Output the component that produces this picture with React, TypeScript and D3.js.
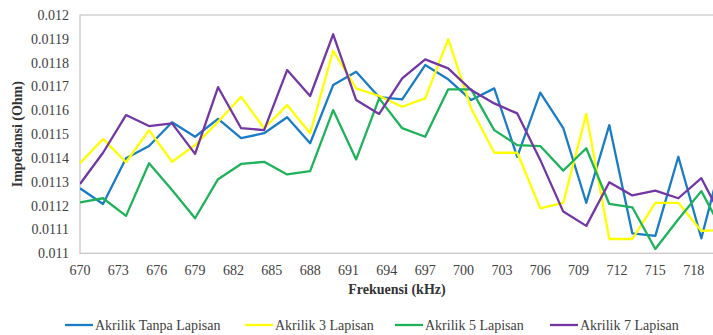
import React from "react";
import * as d3 from "d3";

const freqs = [670, 671.8, 673.6, 675.4, 677.2, 679, 680.8, 682.6, 684.4, 686.2, 688, 689.8, 691.6, 693.4, 695.2, 697, 698.8, 700.6, 702.4, 704.2, 706, 707.8, 709.6, 711.4, 713.2, 715, 716.8, 718.6, 720.4];

const tanpa = [0.011273, 0.011207, 0.011399, 0.01145, 0.01155, 0.011489, 0.011564, 0.011483, 0.011504, 0.011571, 0.011462, 0.011706, 0.011762, 0.011655, 0.011646, 0.01179, 0.01173, 0.011643, 0.011692, 0.011405, 0.011674, 0.011525, 0.011212, 0.011538, 0.011084, 0.011073, 0.011405, 0.011063, 0.011435];
const lapis3 = [0.011378, 0.01148, 0.011382, 0.011517, 0.011384, 0.011454, 0.011552, 0.011657, 0.011525, 0.011622, 0.011504, 0.01185, 0.011692, 0.01166, 0.011615, 0.01165, 0.011899, 0.011608, 0.011422, 0.011422, 0.011189, 0.011212, 0.011585, 0.01106, 0.01106, 0.011212, 0.011212, 0.011094, 0.011098];
const lapis5 = [0.011214, 0.011231, 0.011157, 0.011378, 0.011266, 0.011147, 0.011311, 0.011375, 0.011384, 0.011331, 0.011345, 0.011601, 0.011394, 0.01165, 0.011525, 0.011489, 0.011688, 0.011688, 0.011517, 0.011454, 0.01145, 0.011347, 0.011441, 0.011207, 0.011193, 0.011018, 0.011143, 0.011261, 0.01108];
const lapis7 = [0.011291, 0.011422, 0.01158, 0.011534, 0.011545, 0.011417, 0.011697, 0.011525, 0.011517, 0.011769, 0.01166, 0.011919, 0.011643, 0.011585, 0.011734, 0.011814, 0.011776, 0.011685, 0.011629, 0.011587, 0.011392, 0.011175, 0.011115, 0.011298, 0.011243, 0.011263, 0.011231, 0.011315, 0.01113];

const seriesNames = ["Akrilik Tanpa Lapisan", "Akrilik 3 Lapisan", "Akrilik 5 Lapisan", "Akrilik 7 Lapisan"];
const seriesValues = [tanpa, lapis3, lapis5, lapis7];
const seriesColors = ["#1b7cc6", "#ffff00", "#1fb25a", "#7337a3"];

const xTicks = [670, 673, 676, 679, 682, 685, 688, 691, 694, 697, 700, 703, 706, 709, 712, 715, 718];
const yTicks = [0.011, 0.0111, 0.0112, 0.0113, 0.0114, 0.0115, 0.0116, 0.0117, 0.0118, 0.0119, 0.012];
const yTickLabels = ["0.011", "0.0111", "0.0112", "0.0113", "0.0114", "0.0115", "0.0116", "0.0117", "0.0118", "0.0119", "0.012"];

const legendX = [65, 245, 395, 550];

export default function App() {
  const W = 713, H = 335;
  const left = 80, top = 15, bottom = 253.3;
  const right = 80 + 50 * 12.785;
  const x = d3.scaleLinear().domain([670, 720]).range([left, right]);
  const y = d3.scaleLinear().domain([0.011, 0.012]).range([bottom, top]);
  const line = d3.line<number>().x((_, i) => x(freqs[i])).y((d) => y(d));
  const font = "'Liberation Serif', 'Times New Roman', serif";
  return (
    <svg width={W} height={H} style={{ position: "absolute", left: 0, top: 0, background: "#fff" }} fontFamily={font}>
      <defs>
        <clipPath id="plot"><rect x={left} y={top - 5} width={right - left} height={bottom - top + 10} /></clipPath>
      </defs>
      <rect x={left} y={top} width={right - left} height={bottom - top} fill="none" stroke="#c8c8c8" strokeWidth={1.3} />
      {yTicks.map((t, i) => (
        <text key={i} x={69} y={y(t)} dy="0.35em" textAnchor="end" fontSize={14} fill="#404040">{yTickLabels[i]}</text>
      ))}
      {xTicks.map((t) => (
        <text key={t} x={x(t)} y={275} textAnchor="middle" fontSize={14} fill="#404040">{t}</text>
      ))}
      <g clipPath="url(#plot)">
        {seriesValues.map((vals, i) => (
          <path key={i} d={line(vals) || ""} fill="none" stroke={seriesColors[i]} strokeWidth={2.3} strokeLinejoin="round" />
        ))}
      </g>
      <text x={397} y={294} textAnchor="middle" fontSize={14} fontWeight="bold" fill="#333">Frekuensi (kHz)</text>
      <text transform={`translate(22,${(top + bottom) / 2}) rotate(-90)`} textAnchor="middle" fontSize={14} fontWeight="bold" fill="#333">Impedansi (Ohm)</text>
      {seriesNames.map((n, i) => (
        <g key={n}>
          <line x1={legendX[i]} x2={legendX[i] + 28} y1={325} y2={325} stroke={seriesColors[i]} strokeWidth={2.3} />
          <text x={legendX[i] + 30} y={325} dy="0.35em" fontSize={14} fill="#404040">{n}</text>
        </g>
      ))}
    </svg>
  );
}
